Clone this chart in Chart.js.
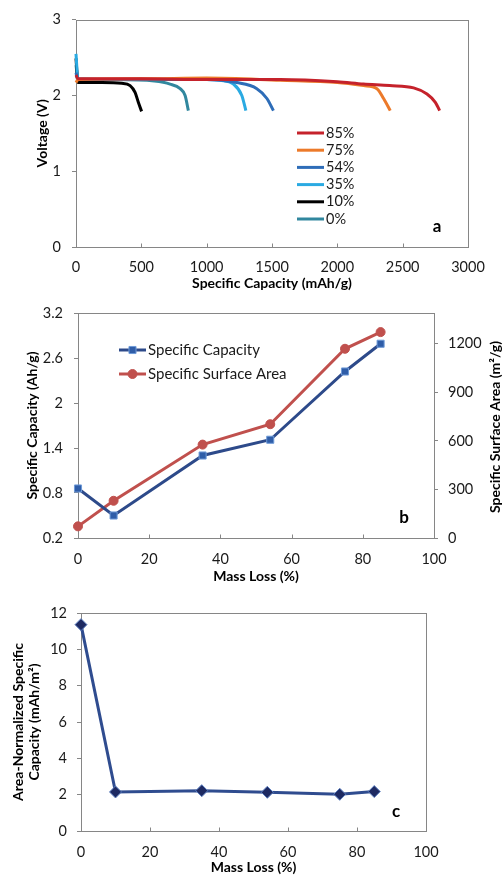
<!DOCTYPE html>
<html>
<head>
<meta charset="utf-8">
<script src="https://cdn.jsdelivr.net/npm/chart.js@4"></script>
<style>
  body { margin: 0; background: #fff; }
  #wrap { position: relative; width: 503px; height: 876px; }
  canvas { position: absolute; left: 0; }
</style>
</head>
<body>
<div id="wrap">
  <canvas id="chartA" width="503" height="292" style="top:0"></canvas>
  <canvas id="chartB" width="503" height="295" style="top:292px"></canvas>
  <canvas id="chartC" width="503" height="289" style="top:587px"></canvas>
</div>
<script>
// Panel a: discharge curves (capacity mAh/g, voltage V)
const cap85 = [0, 15, 500, 1000, 1562, 2000, 2200, 2400, 2584, 2686, 2750, 2783];
const v85   = [2.27, 2.22, 2.22, 2.21, 2.21, 2.18, 2.15, 2.13, 2.10, 2.02, 1.91, 1.80];
const cap75 = [0, 15, 500, 1000, 1562, 2000, 2201, 2303, 2354, 2405];
const v75   = [2.17, 2.21, 2.22, 2.23, 2.20, 2.17, 2.13, 2.09, 1.96, 1.80];
const cap54 = [0, 15, 500, 1000, 1231, 1384, 1461, 1511];
const v54   = [2.30, 2.21, 2.21, 2.21, 2.17, 2.09, 1.96, 1.80];
const cap35 = [0, 15, 500, 1000, 1103, 1205, 1269, 1300];
const v35   = [2.55, 2.21, 2.21, 2.21, 2.20, 2.15, 2.00, 1.80];
const cap10 = [0, 15, 200, 350, 414, 452, 477, 502];
const v10   = [2.49, 2.17, 2.17, 2.16, 2.13, 2.04, 1.91, 1.79];
const cap0  = [0, 15, 300, 600, 720, 797, 835, 860];
const v0    = [2.40, 2.22, 2.21, 2.19, 2.15, 2.09, 2.00, 1.80];
const curveLabels = ['85%', '75%', '54%', '35%', '10%', '0%'];

// Panels b and c: vs mass loss (%)
const massLoss = [0, 10, 35, 54, 75, 85];
const specCapacity = [0.86, 0.50, 1.30, 1.51, 2.42, 2.79];      // Ah/g
const surfaceArea = [72, 230, 577, 703, 1169, 1272];             // m2/g
const areaNormCap = [11.36, 2.15, 2.22, 2.13, 2.02, 2.17];       // mAh/m2

const FONT = 'Lato, "Open Sans", sans-serif';
const TXT = '#1a1a1a';
const AXC = '#868686';
const TICK_FONT = { family: FONT, size: 14.5 };
const TITLE_FONT = { family: FONT, size: 14, weight: 'bold' };
const plain = v => String(v);

function pts(xs, ys) {
  return xs.map((x, i) => ({ x: x, y: ys[i] }));
}

// box around plot area + inward ticks on the x axis, legend, panel letter
const framePlugin = {
  id: 'frame',
  beforeDatasetsDraw(chart) {
    const { ctx, chartArea: a } = chart;
    ctx.save();
    ctx.strokeStyle = AXC;
    ctx.lineWidth = 1;
    const l = Math.round(a.left) + 0.5, t = Math.round(a.top) + 0.5;
    const r = Math.round(a.right) + 0.5, b = Math.round(a.bottom) + 0.5;
    ctx.strokeRect(l, t, r - l, b - t);
    const xs = chart.scales.x;
    ctx.beginPath();
    xs.ticks.forEach(tk => {
      const px = Math.round(xs.getPixelForValue(tk.value)) + 0.5;
      ctx.moveTo(px, b);
      ctx.lineTo(px, b - 4);
    });
    ctx.stroke();
    ctx.restore();
  },
  afterDraw(chart, args, opts) {
    const { ctx } = chart;
    ctx.save();
    if (opts.letter) {
      ctx.font = 'bold 17px ' + FONT;
      ctx.fillStyle = '#000';
      ctx.textAlign = 'center';
      ctx.textBaseline = 'middle';
      ctx.fillText(opts.letter, opts.letterX, opts.letterY);
    }
    if (opts.rightTitle) {
      const rt = opts.rightTitle;
      ctx.translate(rt.x, rt.y);
      ctx.rotate(-Math.PI / 2);
      ctx.font = 'bold 14px ' + FONT;
      ctx.fillStyle = '#000';
      ctx.textAlign = 'center';
      ctx.textBaseline = 'middle';
      ctx.fillText(rt.text, 0, 0);
      ctx.setTransform(1, 0, 0, 1, 0, 0);
    }
    if (opts.legend) {
      const lg = opts.legend;
      ctx.font = lg.size + 'px ' + FONT;
      ctx.textBaseline = 'middle';
      ctx.textAlign = 'left';
      chart.data.datasets.forEach((ds, i) => {
        const y = lg.y + i * lg.rowH;
        ctx.strokeStyle = ds.borderColor;
        ctx.lineWidth = 3;
        ctx.beginPath();
        ctx.moveTo(lg.x, y);
        ctx.lineTo(lg.x + lg.len, y);
        ctx.stroke();
        if (ds.pointRadius > 0) {
          ctx.fillStyle = ds.pointBackgroundColor;
          ctx.strokeStyle = ds.pointBorderColor;
          ctx.lineWidth = 1;
          Chart.helpers.drawPoint(ctx, { pointStyle: ds.pointStyle, radius: ds.pointRadius, borderWidth: 1, rotation: 0 }, lg.x + lg.len / 2, y);
        }
        ctx.fillStyle = TXT;
        ctx.fillText(ds.label, lg.x + lg.len + 2, y);
      });
    }
    ctx.restore();
  }
};

function yAxis(opts) {
  return Object.assign({
    type: 'linear',
    border: { display: false },
    grid: { drawOnChartArea: false, drawTicks: true, tickLength: 4, color: AXC }
  }, opts);
}

function xAxis(opts) {
  return Object.assign({
    type: 'linear',
    border: { display: false },
    grid: { display: false, drawTicks: false }
  }, opts);
}

Chart.defaults.animation = false;
Chart.defaults.plugins.legend.display = false;
Chart.defaults.plugins.tooltip.enabled = false;

// ---------- panel a ----------
const curveColors = ['#C5222B', '#EC7A2A', '#2E6DB8', '#2AAAE2', '#000000', '#31879E'];
const curves = [[cap85, v85], [cap75, v75], [cap54, v54], [cap35, v35], [cap10, v10], [cap0, v0]];

new Chart(document.getElementById('chartA'), {
  type: 'scatter',
  data: {
    datasets: curves.map((c, i) => ({
      label: curveLabels[i],
      data: pts(c[0], c[1]),
      showLine: true,
      borderColor: curveColors[i],
      borderWidth: 3,
      pointRadius: 0,
      clip: 4,
      cubicInterpolationMode: 'monotone'
    }))
  },
  options: {
    responsive: false,
    layout: { padding: { top: 19, right: 35, left: 0, bottom: 0 } },
    scales: {
      x: xAxis({
        min: 0, max: 3000,
        ticks: { color: TXT, font: TICK_FONT, padding: 12, stepSize: 500, maxRotation: 0, callback: plain },
        title: { display: true, text: 'Specific Capacity (mAh/g)', color: '#000', padding: { top: 0, bottom: 0 }, font: TITLE_FONT },
        afterFit: s => { s.height = 45; }
      }),
      y: yAxis({
        min: 0, max: 3,
        ticks: { color: TXT, font: TICK_FONT, padding: 11, stepSize: 1, callback: plain },
        title: { display: true, text: 'Voltage (V)', color: '#000', padding: { top: 34, bottom: 0 }, font: TITLE_FONT },
        afterFit: s => { s.width = 76; }
      })
    },
    plugins: {
      frame: { letter: 'a', letterX: 437, letterY: 227, legend: { x: 297, y: 133, rowH: 17.2, len: 27, size: 14.5 } }
    }
  },
  plugins: [framePlugin]
});

// ---------- panel b ----------
new Chart(document.getElementById('chartB'), {
  type: 'scatter',
  data: {
    datasets: [{
      label: 'Specific Capacity',
      data: pts(massLoss, specCapacity),
      yAxisID: 'y',
      showLine: true,
      clip: false,
      borderColor: '#2D4A8A',
      borderWidth: 3,
      pointStyle: 'rect',
      pointRadius: 5,
      pointBackgroundColor: '#2F5DA8',
      pointBorderColor: '#6F9BD8',
      pointBorderWidth: 1
    }, {
      label: 'Specific Surface Area',
      data: pts(massLoss, surfaceArea),
      yAxisID: 'y2',
      showLine: true,
      clip: false,
      borderColor: '#C0504D',
      borderWidth: 3,
      pointStyle: 'circle',
      pointRadius: 4.5,
      pointBackgroundColor: '#C0504D',
      pointBorderColor: '#C0504D',
      pointBorderWidth: 1
    }]
  },
  options: {
    responsive: false,
    layout: { padding: { top: 21, right: 0, left: 0, bottom: 0 } },
    scales: {
      x: xAxis({
        min: 0, max: 100,
        ticks: { color: TXT, font: TICK_FONT, padding: 13, stepSize: 20, maxRotation: 0, callback: plain },
        title: { display: true, text: 'Mass Loss (%)', color: '#000', padding: { top: 0, bottom: 2.6 }, font: TITLE_FONT },
        afterFit: s => { s.height = 49; }
      }),
      y: yAxis({
        position: 'left',
        min: 0.2, max: 3.2,
        ticks: { color: TXT, font: TICK_FONT, padding: 11, stepSize: 0.6,
          callback: v => String(Math.round(v * 10) / 10) },
        title: { display: true, text: 'Specific Capacity (Ah/g)', color: '#000', padding: { top: 23.6, bottom: 0 }, font: TITLE_FONT },
        afterFit: s => { s.width = 78; }
      }),
      y2: yAxis({
        position: 'right',
        min: 0, max: 1390,
        ticks: { color: TXT, font: TICK_FONT, padding: 10, stepSize: 300, includeBounds: false, callback: plain },
        title: { display: false },
        afterFit: s => { s.width = 69; }
      })
    },
    plugins: {
      frame: {
        letter: 'b', letterX: 404, letterY: 226,
        rightTitle: { text: 'Specific Surface Area (m²/g)', x: 495, y: 135 },
        legend: { x: 119, y: 58, rowH: 24, len: 27, size: 15 }
      }
    }
  },
  plugins: [framePlugin]
});

// ---------- panel c ----------
new Chart(document.getElementById('chartC'), {
  type: 'scatter',
  data: {
    datasets: [{
      label: 'Area-Normalized Specific Capacity',
      data: pts(massLoss, areaNormCap),
      showLine: true,
      clip: false,
      borderColor: '#2F4C8F',
      borderWidth: 3,
      pointStyle: 'rectRot',
      pointRadius: 6,
      pointBackgroundColor: '#1E2A62',
      pointBorderColor: '#5C7FC0',
      pointBorderWidth: 1
    }]
  },
  options: {
    responsive: false,
    layout: { padding: { top: 26, right: 77, left: 0, bottom: 0 } },
    scales: {
      x: xAxis({
        min: 0, max: 100,
        ticks: { color: TXT, font: TICK_FONT, padding: 13, stepSize: 20, maxRotation: 0, callback: plain },
        title: { display: true, text: 'Mass Loss (%)', color: '#000', padding: { top: 0, bottom: 0 }, font: TITLE_FONT },
        afterFit: s => { s.height = 289 - 244; }
      }),
      y: yAxis({
        min: 0, max: 12,
        ticks: { color: TXT, font: TICK_FONT, padding: 10, stepSize: 2, callback: plain },
        title: { display: true, text: ['Area-Normalized Specific', 'Capacity (mAh/m²)'], color: '#000', padding: { top: 9.6, bottom: 0 }, font: TITLE_FONT },
        afterFit: s => { s.width = 81; }
      })
    },
    plugins: {
      frame: { letter: 'c', letterX: 396, letterY: 225 }
    }
  },
  plugins: [framePlugin]
});
</script>
</body>
</html>
